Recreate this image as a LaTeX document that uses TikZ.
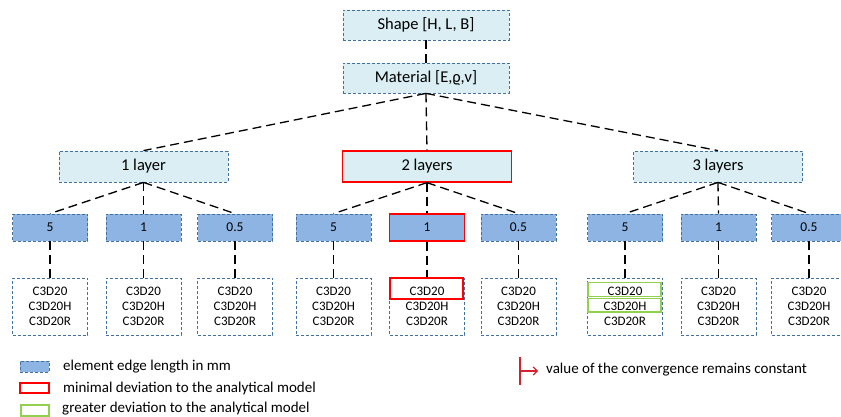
\documentclass[tikz,border=0pt]{standalone}
\usepackage{fontspec}
\setmainfont{Carlito}
\usetikzlibrary{arrows.meta}
\definecolor{lb}{HTML}{DAEEF3}
\definecolor{bb}{HTML}{41719C}
\definecolor{mb}{HTML}{8EB4E3}
\definecolor{rd}{HTML}{FF0000}
\definecolor{gr}{HTML}{92D050}
\definecolor{dr}{HTML}{D2222D}
\begin{document}
\begin{tikzpicture}[x=1pt,y=-1pt,
  dbox/.style={draw=bb, line width=0.8pt, dash pattern=on 3pt off 2pt, inner sep=0pt},
  topbox/.style={dbox, fill=lb, minimum width=166pt, minimum height=30pt, font=\fontsize{16.5}{19}\selectfont},
  laybox/.style={dbox, fill=lb, minimum width=169pt, minimum height=31pt, font=\fontsize{16.5}{19}\selectfont},
  mmbox/.style={dbox, fill=mb, minimum width=75pt, minimum height=27pt, font=\fontsize{13.5}{15}\selectfont},
  elbox/.style={dbox, fill=white, minimum width=75pt, minimum height=57pt, align=center, font=\fontsize{13}{15}\selectfont},
  redframe/.style={draw=rd, line width=1.3pt, solid},
  greenframe/.style={draw=gr, line width=1.3pt, solid},
  conn/.style={line width=1.3pt, dash pattern=on 9pt off 5pt},
  legtext/.style={anchor=west, inner sep=0pt, font=\fontsize{15}{17}\selectfont}
]
\clip (0,0) rectangle (841,417);
\fill[white] (0,0) rectangle (841,417);

\node[topbox] (shape) at (426,25) {Shape [H, L, B]};
\node[topbox] (mat) at (426,78) {Material [E,ϱ,ν]};

\node[laybox] (L1) at (143.5,166.5) {1 layer};
\node[laybox, redframe, fill=lb] (L2) at (427,166.5) {2 layers};
\node[laybox] (L3) at (718,166.5) {3 layers};

% mm boxes
\node[mmbox] (m11) at (50,227.5) {5};
\node[mmbox] (m12) at (143.5,227.5) {1};
\node[mmbox] (m13) at (235,227.5) {0.5};
\node[mmbox] (m21) at (333.5,227.5) {5};
\node[mmbox, redframe, fill=mb] (m22) at (427,227.5) {1};
\node[mmbox] (m23) at (518.5,227.5) {0.5};
\node[mmbox] (m31) at (625,227.5) {5};
\node[mmbox] (m32) at (718.5,227.5) {1};
\node[mmbox] (m33) at (809,227.5) {0.5};

% element boxes
\foreach \n/\x in {e11/50,e12/143.5,e13/235,e21/333.5,e22/427,e23/518.5,e31/625,e32/718.5,e33/809}
  \node[elbox] (\n) at (\x,306.5) {C3D20\\C3D20H\\C3D20R};

% connectors
\draw[conn] (shape.south) -- (mat.north);
\foreach \l in {L1,L2,L3} \draw[conn] (mat.south) -- (\l.north);
\foreach \l/\a/\b/\c in {L1/m11/m12/m13, L2/m21/m22/m23, L3/m31/m32/m33} {
  \draw[conn] (\l.south) -- (\a.north);
  \draw[conn] (\l.south) -- (\b.north);
  \draw[conn] (\l.south) -- (\c.north);
}
\foreach \m/\e in {m11/e11,m12/e12,m13/e13,m21/e21,m22/e22,m23/e23,m31/e31,m32/e32,m33/e33}
  \draw[conn] (\m.south) -- (\e.north);

% highlights
\node[redframe, minimum width=73pt, minimum height=21pt, inner sep=0pt] (h22) at (426.5,288.5) {};
\node[greenframe, minimum width=73pt, minimum height=13.5pt, inner sep=0pt] (g1) at (624.5,289.5) {};
\node[greenframe, minimum width=73pt, minimum height=13.5pt, inner sep=0pt] (g2) at (624.5,305.2) {};

% legend
\node[dbox, fill=mb, minimum width=29pt, minimum height=11pt] (lg1) at (34.5,366.5) {};
\node[legtext] (lt1) at (63,367) {element edge length in mm};
\node[redframe, fill=white, minimum width=29pt, minimum height=10pt, inner sep=0pt] (lg2) at (34.5,388) {};
\node[legtext] (lt2) at (63,388) {minimal deviation to the analytical model};
\node[greenframe, fill=white, minimum width=28pt, minimum height=11pt, inner sep=0pt] (lg3) at (35,410.5) {};
\node[legtext] (lt3) at (62,409) {greater deviation to the analytical model};

\coordinate (cvt) at (520,357);
\coordinate (cvb) at (520,385);
\coordinate (cvm) at (520,371);
\coordinate (cva) at (538,371);
\draw[dr, line width=1.2pt] (cvt) -- (cvb);
\draw[dr, line width=1.2pt, -{Straight Barb[length=4pt,width=8pt]}] (cvm) -- (cva);
\node[legtext] (lt4) at (546,370) {value of the convergence remains constant};
\end{tikzpicture}
\end{document}
